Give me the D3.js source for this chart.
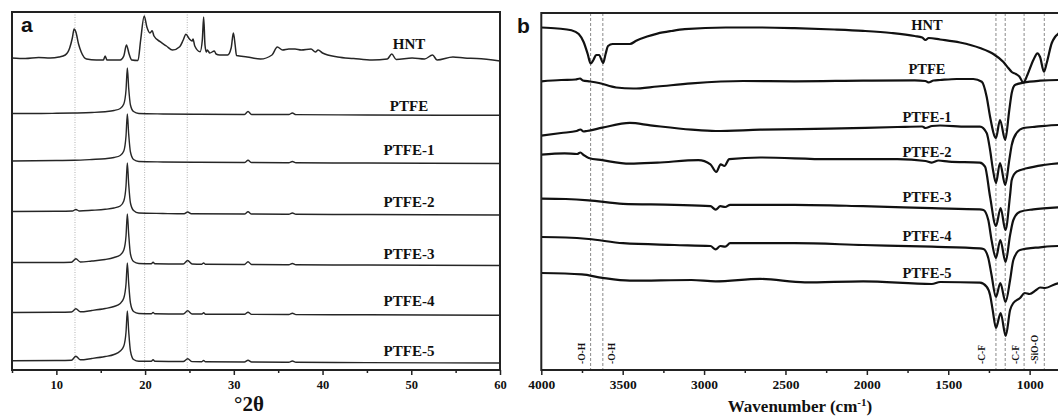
<!DOCTYPE html>
<html><head><meta charset="utf-8">
<script src="https://cdn.jsdelivr.net/npm/d3@7"></script>
<style>
body{margin:0;background:#fff}
svg{display:block}
text{font-family:"Liberation Serif","Times New Roman",serif;font-weight:bold;fill:#111}
</style>
</head><body>
<svg id="c" width="1058" height="418"></svg>
<script>
// ---------- Panel a : XRD (2θ, intensity a.u. incl. stacking offset) ----------
const xrdLabels = ["HNT","PTFE","PTFE-1","PTFE-2","PTFE-3","PTFE-4","PTFE-5"];
const xrdHNT = [[5,312],[6.5,311.5],[8,312.5],[9.3,312],[10.3,313],[11,315],[11.5,322],[11.8,332],[12,341],[12.2,338],[12.5,326],[12.8,318],[13.4,311],[14.5,310],[15.3,310],[15.5,314],[15.7,310],[17.2,310],[17.6,314],[17.9,325],[18.2,316],[18.5,310],[19.2,309.5],[19.5,330],[19.9,354],[20.2,343],[20.55,337],[20.8,339.3],[21,334],[21.7,328.3],[22.4,324],[23.1,320],[23.9,323.3],[24.3,330],[24.6,335.7],[25,331],[25.3,329],[25.4,331],[25.6,324],[26.2,318.3],[26.45,330],[26.6,353],[26.75,325],[26.9,318],[27,320],[27.3,317],[27.8,319],[28,316],[28.4,315],[29.3,315],[29.7,322],[29.95,337],[30.15,325],[30.3,314.5],[31.5,313],[33,311],[34.3,315],[34.9,323],[35.5,320],[36.2,321],[36.9,321],[37.6,320],[38.7,321],[39.2,318],[39.5,320],[40,317],[41.7,313],[43.5,311.5],[45.6,310],[47.3,311],[47.8,316],[48.3,310.5],[50.1,312],[51.5,311],[52.4,315],[52.9,310],[54.7,313],[56,312],[57.4,311.5],[60,309]];
const xrdPTFE = [[5,256.5],[8,256.5],[10,256.7],[12,257],[14,257.5],[15.5,258.3],[16.5,259.5],[17.2,261.5],[17.6,266],[17.85,280],[18,302],[18.15,282],[18.35,265],[18.7,258.5],[19.3,256.5],[22,256],[26,255.7],[31.2,255.5],[31.6,258.5],[32,255.5],[36.2,255.5],[36.6,257],[37,255.4],[45,255],[60,254.7]];
const xrdPTFE1 = [[5,209],[10,209.5],[12,209.7],[14,210.5],[15.5,211.3],[16.5,212.5],[17.2,214.5],[17.6,219],[17.85,234],[18,256],[18.15,236],[18.35,218],[18.7,210.5],[19.3,208.5],[22,208],[26,207.7],[31.2,207.5],[31.6,209.7],[32,207.5],[36.2,207.3],[36.6,208.5],[37,207.2],[45,207],[60,206.5]];
const xrdPTFE2 = [[5,158.5],[10,158.7],[11.8,159],[12.2,160.5],[12.6,159],[14,159.7],[15.5,160.7],[16.5,162],[17.2,164],[17.6,169],[17.85,184],[18,207],[18.15,186],[18.35,167],[18.7,159.5],[19.3,157],[22,156.5],[24.4,156.2],[24.8,158],[25.2,156.2],[31.2,156],[31.6,158.2],[32,156],[36.2,155.8],[36.6,157],[37,155.7],[45,155.5],[60,155]];
const xrdPTFE3 = [[5,107.5],[10,107.5],[11.7,107.7],[12.2,111.2],[12.7,108],[14,109],[15.5,110.5],[16.5,112.5],[17.2,115],[17.6,120],[17.85,134],[18,156],[18.15,136],[18.35,116],[18.7,108.5],[19.3,106.5],[20.7,106.2],[20.9,107.7],[21.1,106.2],[24.3,106],[24.8,109.5],[25.3,106],[26.4,105.8],[26.6,107],[26.8,105.7],[31.2,105.5],[31.6,108.2],[32,105.5],[36.2,105.3],[36.6,106.5],[37,105.2],[45,105],[60,104.5]];
const xrdPTFE4 = [[5,57.5],[10,57.7],[11.7,58],[12.2,61.2],[12.7,58.2],[14,59.5],[15.5,61.5],[16.5,63.5],[17.2,66.5],[17.6,72],[17.85,86],[18,107],[18.15,87],[18.35,67],[18.7,58.5],[19.3,56.5],[20.7,56.2],[20.9,57.5],[21.1,56.2],[24.3,56],[24.8,59.2],[25.3,56],[26.4,56],[26.6,57.2],[26.8,55.8],[31.2,55.7],[31.6,57.7],[32,55.6],[36.2,55.5],[36.6,56.7],[37,55.4],[45,55.2],[60,54.7]];
const xrdPTFE5 = [[5,9.3],[10,9.5],[11.7,9.8],[12.2,13.7],[12.7,10.2],[14,11.5],[15.5,13.5],[16.5,15.5],[17.2,19],[17.6,24],[17.85,38],[18,59],[18.15,39],[18.35,19],[18.7,10.5],[19.3,8.7],[20.7,8.7],[20.9,10.2],[21.1,8.7],[24.3,8.5],[24.8,11.2],[25.3,8.4],[26.4,8.3],[26.6,9.5],[26.8,8.2],[31.2,8],[31.6,9.8],[32,8],[36.2,7.8],[36.6,9],[37,7.7],[45,7.4],[60,7]];
const xrdSeries = [xrdHNT,xrdPTFE,xrdPTFE1,xrdPTFE2,xrdPTFE3,xrdPTFE4,xrdPTFE5];
const xrdLabelLevels = [321,259,215,163,111,64,14];   // label baselines (a.u.)
const xrdRefLines = [12.1,19.95,24.75];
const xrdTicks = [10,20,30,40,50,60];
const xrdMinorTicks = [5,15,25,35,45,55];

// ---------- Panel b : FTIR (wavenumber, transmittance a.u. incl. offset) ----------
const ftirLabels = ["HNT","PTFE","PTFE-1","PTFE-2","PTFE-3","PTFE-4","PTFE-5"];
const ftirHNT = [[4000,342.5],[3900,341.5],[3815,339.8],[3770,336],[3740,328],[3715,316],[3697,306.5],[3680,310],[3663,315],[3645,315],[3620,307],[3605,316],[3590,324],[3562,326],[3456,326],[3414,329.5],[3350,333.5],[3287,336.4],[3200,339],[3119,340.8],[2866,342.5],[2650,342.5],[2444,341.9],[2200,340.5],[2023,339.1],[1850,337],[1706,334],[1660,332.5],[1640,330],[1620,332],[1550,330.5],[1428,327.5],[1305,322],[1223,316],[1161,308],[1131,302],[1110,298],[1084,296],[1063,293.5],[1038,287.3],[1014,295],[977,310],[952,316.7],[936,313],[912,298.3],[895,307],[864,327],[844,333],[826,336],[780,339]];
const ftirPTFE = [[4000,288.7],[3878,290],[3790,290.5],[3762,291.5],[3745,289.5],[3700,288.5],[3646,287],[3540,282.5],[3435,281.5],[3287,283.5],[3077,286.6],[2760,289],[2444,288.7],[2023,289.4],[1706,289.7],[1640,289],[1622,287.6],[1590,289.5],[1550,290],[1448,291],[1346,291],[1294,288.3],[1264,273.3],[1243,253.3],[1207,232],[1182,250],[1150,230],[1125,260],[1110,277],[1090,285],[1038,287.3],[936,289.3],[826,290],[780,290]];
const ftirPTFE1 = [[4000,234.4],[3878,237],[3783,239],[3760,240.5],[3740,238.5],[3720,239],[3625,242.3],[3456,247.1],[3330,244.7],[3077,240.3],[2929,239],[2655,240.3],[2233,241.3],[1812,243],[1660,243.5],[1640,242],[1600,244],[1550,244.5],[1387,243.3],[1305,243.3],[1264,237],[1243,220],[1225,200],[1207,187],[1182,207],[1150,185],[1125,210],[1110,225],[1080,237],[1038,242],[960,243.3],[826,245],[780,245]];
const ftirPTFE2 = [[4000,215.3],[3857,216.7],[3780,216],[3760,217.5],[3740,215],[3709,212],[3625,209.8],[3456,206.4],[3287,207.4],[3035,209.8],[2961,205.7],[2925,198.1],[2898,205.7],[2875,204],[2845,210.8],[2655,212.5],[2233,210.8],[1812,210.8],[1640,209],[1601,207.4],[1560,209.5],[1496,208.4],[1306,207.4],[1274,203.3],[1243,173.3],[1207,144],[1178,162],[1149,140],[1120,175],[1110,190],[1080,198.3],[1018,201.7],[915,205],[826,206.7],[780,207]];
const ftirPTFE3 = [[4000,171.4],[3850,171],[3709,169.7],[3498,166.2],[3182,165.2],[2961,163.8],[2929,160.4],[2900,163.8],[2870,163],[2840,165.2],[2444,165.2],[2023,163.8],[1601,161.8],[1306,160.6],[1284,160],[1254,150],[1234,130],[1207,112],[1180,130],[1148,108],[1120,135],[1100,150],[1059,158.3],[977,160.7],[826,162.7],[780,163]];
const ftirPTFE4 = [[4000,133],[3850,132.5],[3709,131],[3498,126.8],[3182,125],[2961,124],[2929,120.6],[2900,124],[2870,123.3],[2840,126.8],[2444,126.8],[2023,125],[1601,123.3],[1306,121.6],[1284,121],[1254,112],[1234,95],[1207,73],[1180,87],[1148,68],[1120,90],[1100,110],[1059,120],[936,122.7],[826,124],[780,124]];
const ftirPTFE5 = [[4000,97],[3751,95.6],[3625,92.2],[3456,89.4],[3077,90],[2929,88.7],[2655,91.1],[2381,87.7],[2023,88.7],[1601,86],[1550,88],[1305,87.3],[1264,83.3],[1243,75],[1227,60],[1207,42],[1178,57],[1147,34],[1120,60],[1100,67],[1059,72],[1030,77],[1000,76],[960,80],[936,82.5],[905,82],[826,86.7],[780,87]];
const ftirSeries = [ftirHNT,ftirPTFE,ftirPTFE1,ftirPTFE2,ftirPTFE3,ftirPTFE4,ftirPTFE5];
const ftirLabelLevels = [340,296,248,213,168,129,92];   // label baselines (a.u.)
const ftirRefLines = [3697,3622,1207,1150,1034,910];
const ftirBandLabels = ["-O-H","-O-H","-C-F","-C-F","-SiO-O"];
const ftirBandPos = [3750,3570,1295,1085,967];
const ftirTicks = [4000,3500,3000,2500,2000,1500,1000];
const ftirMinorTicks = [3750,3250,2750,2250,1750,1250,750];

// ---------------------------------------------------------------
const svg = d3.select("#c");

// ===== Panel a =====
const A = {l:12, r:500, t:12, b:370};
const xa = d3.scaleLinear().domain([5,60]).range([A.l,A.r]);
const ya = d3.scaleLinear().domain([0,358]).range([A.b,A.t]);
const ga = svg.append("g");

ga.selectAll("line.ref").data(xrdRefLines).join("line")
  .attr("x1",d=>xa(d)).attr("x2",d=>xa(d)).attr("y1",A.t).attr("y2",A.b)
  .attr("stroke","#b4b4b4").attr("stroke-width",1).attr("stroke-dasharray","1,1.5");

const lineA = d3.line().x(d=>xa(d[0])).y(d=>ya(d[1])).curve(d3.curveMonotoneX);
ga.selectAll("path.s").data(xrdSeries).join("path")
  .attr("d",lineA).attr("fill","none").attr("stroke","#262626")
  .attr("stroke-width",(d,i)=>i===0?1.5:1.4).attr("stroke-linejoin","round");

ga.selectAll("text.lab").data(xrdLabels).join("text")
  .attr("x",409).attr("y",(d,i)=>ya(xrdLabelLevels[i]))
  .attr("text-anchor","middle").attr("font-size",15).text(d=>d);

ga.append("rect").attr("x",A.l).attr("y",A.t).attr("width",A.r-A.l).attr("height",A.b-A.t)
  .attr("fill","none").attr("stroke","#222").attr("stroke-width",2);

const axA = ga.append("g").attr("transform",`translate(0,${A.b})`)
  .call(d3.axisBottom(xa).tickValues(xrdTicks).tickSize(5).tickSizeOuter(0).tickPadding(5).tickFormat(d3.format("d")));
axA.select(".domain").remove();
axA.selectAll("line").attr("stroke","#222").attr("stroke-width",1.5);
axA.selectAll("text").attr("font-size",12.5).style("font-family",'"Liberation Serif",serif').style("font-weight","bold").attr("fill","#222");
const axAm = ga.append("g").attr("transform",`translate(0,${A.b})`)
  .call(d3.axisBottom(xa).tickValues(xrdMinorTicks).tickSize(3).tickFormat(""));
axAm.select(".domain").remove();
axAm.selectAll("line").attr("stroke","#222").attr("stroke-width",1.5);

ga.append("text").attr("x",249).attr("y",411).attr("text-anchor","middle")
  .attr("font-size",21).text("°2θ");
ga.append("text").attr("x",21).attr("y",32).attr("font-size",21)
  .style("font-family",'"Liberation Sans",Arial,sans-serif').text("a");

// ===== Panel b =====
const B = {l:541.3, r:1127.3, t:13, b:370};
const xb = d3.scaleLinear().domain([4000,400]).range([B.l,B.r]);
const yb = d3.scaleLinear().domain([0,357]).range([B.b,B.t]);
const gb = svg.append("g");

gb.selectAll("line.ref").data(ftirRefLines).join("line")
  .attr("x1",d=>xb(d)).attr("x2",d=>xb(d)).attr("y1",B.t).attr("y2",B.b)
  .attr("stroke","#8a8a8a").attr("stroke-width",1).attr("stroke-dasharray","3,2");

const lineB = d3.line().x(d=>xb(d[0])).y(d=>yb(d[1])).curve(d3.curveMonotoneX);
gb.selectAll("path.s").data(ftirSeries).join("path")
  .attr("d",lineB).attr("fill","none").attr("stroke","#111")
  .attr("stroke-width",2.2).attr("stroke-linejoin","round");

gb.selectAll("text.lab").data(ftirLabels).join("text")
  .attr("x",927).attr("y",(d,i)=>yb(ftirLabelLevels[i]))
  .attr("text-anchor","middle").attr("font-size",14.5).text(d=>d);

gb.selectAll("text.band").data(ftirBandLabels).join("text")
  .attr("transform",(d,i)=>`translate(${xb(ftirBandPos[i])},364) rotate(-90)`)
  .attr("dy","0.35em").attr("font-size",9.5).text(d=>d);

gb.append("path")
  .attr("d",`M1058,${B.t}H${B.l}V${B.b}H1058`)
  .attr("fill","none").attr("stroke","#222").attr("stroke-width",2);

const axB = gb.append("g").attr("transform",`translate(0,${B.b})`)
  .call(d3.axisBottom(xb).tickValues(ftirTicks).tickSize(5).tickSizeOuter(0).tickPadding(4).tickFormat(d3.format("d")));
axB.select(".domain").remove();
axB.selectAll("line").attr("stroke","#222").attr("stroke-width",1.5);
axB.selectAll("text").attr("font-size",13.5).style("font-family",'"Liberation Serif",serif').style("font-weight","bold").attr("fill","#222");
const axBm = gb.append("g").attr("transform",`translate(0,${B.b})`)
  .call(d3.axisBottom(xb).tickValues(ftirMinorTicks).tickSize(3).tickFormat(""));
axBm.select(".domain").remove();
axBm.selectAll("line").attr("stroke","#222").attr("stroke-width",1.5);

const xt = gb.append("text").attr("x",800).attr("y",412).attr("text-anchor","middle").attr("font-size",17);
xt.append("tspan").text("Wavenumber (cm");
xt.append("tspan").attr("font-size",11).attr("dy",-6).text("-1");
xt.append("tspan").attr("dy",6).text(")");
gb.append("text").attr("x",517).attr("y",33).attr("font-size",21)
  .style("font-family",'"Liberation Sans",Arial,sans-serif').text("b");
</script>
</body></html>
